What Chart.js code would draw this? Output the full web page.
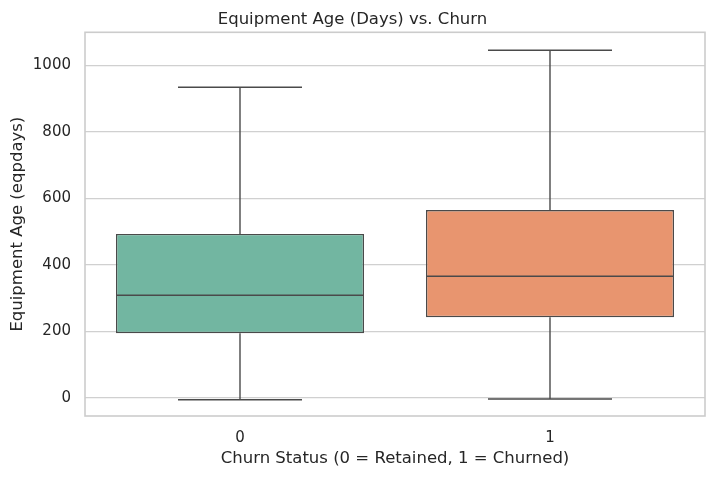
<!DOCTYPE html>
<html>
<head>
<meta charset="utf-8">
<script src="https://cdn.jsdelivr.net/npm/chart.js@4"></script>
<style>
  html, body { margin: 0; padding: 0; background: #ffffff; }
  #wrap { width: 715px; height: 479px; }
</style>
</head>
<body>
<div id="wrap"><canvas id="c" width="715" height="479"></canvas></div>
<script>
// ---- data ----
const categories = ["0", "1"];
const whiskerLow = [-5, -3];
const q1Values = [195, 243];
const medianValues = [309, 366];
const q3Values = [493, 565];
const whiskerHigh = [934, 1045];
const yTickValues = [0, 200, 400, 600, 800, 1000];

const boxColors = ["#72b6a1", "#e8956f"];
const lineColor = "#4a4a4a";
const textColor = "#262626";
const gridColor = "#d0d0d0";
const FONT = "'DejaVu Sans', sans-serif";

const boxPlugin = {
  id: "boxWhiskers",
  beforeDatasetsDraw(chart) {
    const { ctx, chartArea } = chart;
    ctx.save();
    ctx.strokeStyle = "#cccccc";
    ctx.lineWidth = 1.6;
    ctx.strokeRect(chartArea.left, chartArea.top, chartArea.right - chartArea.left, chartArea.bottom - chartArea.top);
    ctx.restore();
  },
  afterDatasetsDraw(chart) {
    const { ctx, scales } = chart;
    const x = scales.x, y = scales.y;
    const meta = chart.getDatasetMeta(0);
    ctx.save();
    ctx.strokeStyle = lineColor;
    ctx.lineWidth = 1.4;
    categories.forEach((c, i) => {
      const bar = meta.data[i];
      const cx = x.getPixelForValue(i);
      const half = bar.width / 2;
      const capHalf = half / 2;
      const yMin = y.getPixelForValue(whiskerLow[i]);
      const yMax = y.getPixelForValue(whiskerHigh[i]);
      const yQ1 = y.getPixelForValue(q1Values[i]);
      const yQ3 = y.getPixelForValue(q3Values[i]);
      const yMed = y.getPixelForValue(medianValues[i]);
      ctx.beginPath();
      ctx.moveTo(cx, yQ3); ctx.lineTo(cx, yMax);
      ctx.moveTo(cx, yQ1); ctx.lineTo(cx, yMin);
      ctx.moveTo(cx - capHalf, yMax); ctx.lineTo(cx + capHalf, yMax);
      ctx.moveTo(cx - capHalf, yMin); ctx.lineTo(cx + capHalf, yMin);
      ctx.moveTo(cx - half, yMed); ctx.lineTo(cx + half, yMed);
      ctx.stroke();
    });
    ctx.restore();
  }
};

new Chart(document.getElementById("c"), {
  type: "bar",
  data: {
    labels: categories,
    datasets: [{
      data: categories.map((c, i) => [q1Values[i], q3Values[i]]),
      backgroundColor: boxColors,
      borderColor: lineColor,
      borderWidth: 1.4,
      borderSkipped: false,
      categoryPercentage: 0.8,
      barPercentage: 1.0
    }]
  },
  options: {
    responsive: false,
    animation: false,
    devicePixelRatio: 1,
    layout: { padding: { left: 0, right: 10, top: 0, bottom: 0 } },
    plugins: {
      legend: { display: false },
      tooltip: { enabled: false },
      title: {
        display: true,
        text: "Equipment Age (Days) vs. Churn",
        color: textColor,
        font: { family: FONT, size: 16.5, weight: "normal" },
        padding: { top: 9.5, bottom: 3 }
      }
    },
    scales: {
      x: {
        type: "category",
        offset: true,
        grid: { display: false, drawTicks: false },
        border: { display: false },
        ticks: { color: textColor, font: { family: FONT, size: 15 }, padding: 13 },
        title: {
          display: true,
          text: "Churn Status (0 = Retained, 1 = Churned)",
          color: textColor,
          font: { family: FONT, size: 16.5 },
          padding: { top: 0, bottom: 10 }
        },
        afterFit(scale) { scale.height = 63; }
      },
      y: {
        min: -54,
        max: 1099,
        grid: { color: gridColor, lineWidth: 1.2, drawTicks: false },
        border: { display: false },
        ticks: {
          color: textColor, font: { family: FONT, size: 15 }, padding: 14,
          callback: (v) => String(v)
        },
        afterBuildTicks(scale) { scale.ticks = yTickValues.map(v => ({ value: v })); },
        title: {
          display: true,
          text: "Equipment Age (eqpdays)",
          color: textColor,
          font: { family: FONT, size: 16.5 },
          padding: { top: 8, bottom: 0 }
        },
        afterFit(scale) { scale.width = 85; }
      }
    }
  },
  plugins: [boxPlugin]
});
</script>
</body>
</html>
